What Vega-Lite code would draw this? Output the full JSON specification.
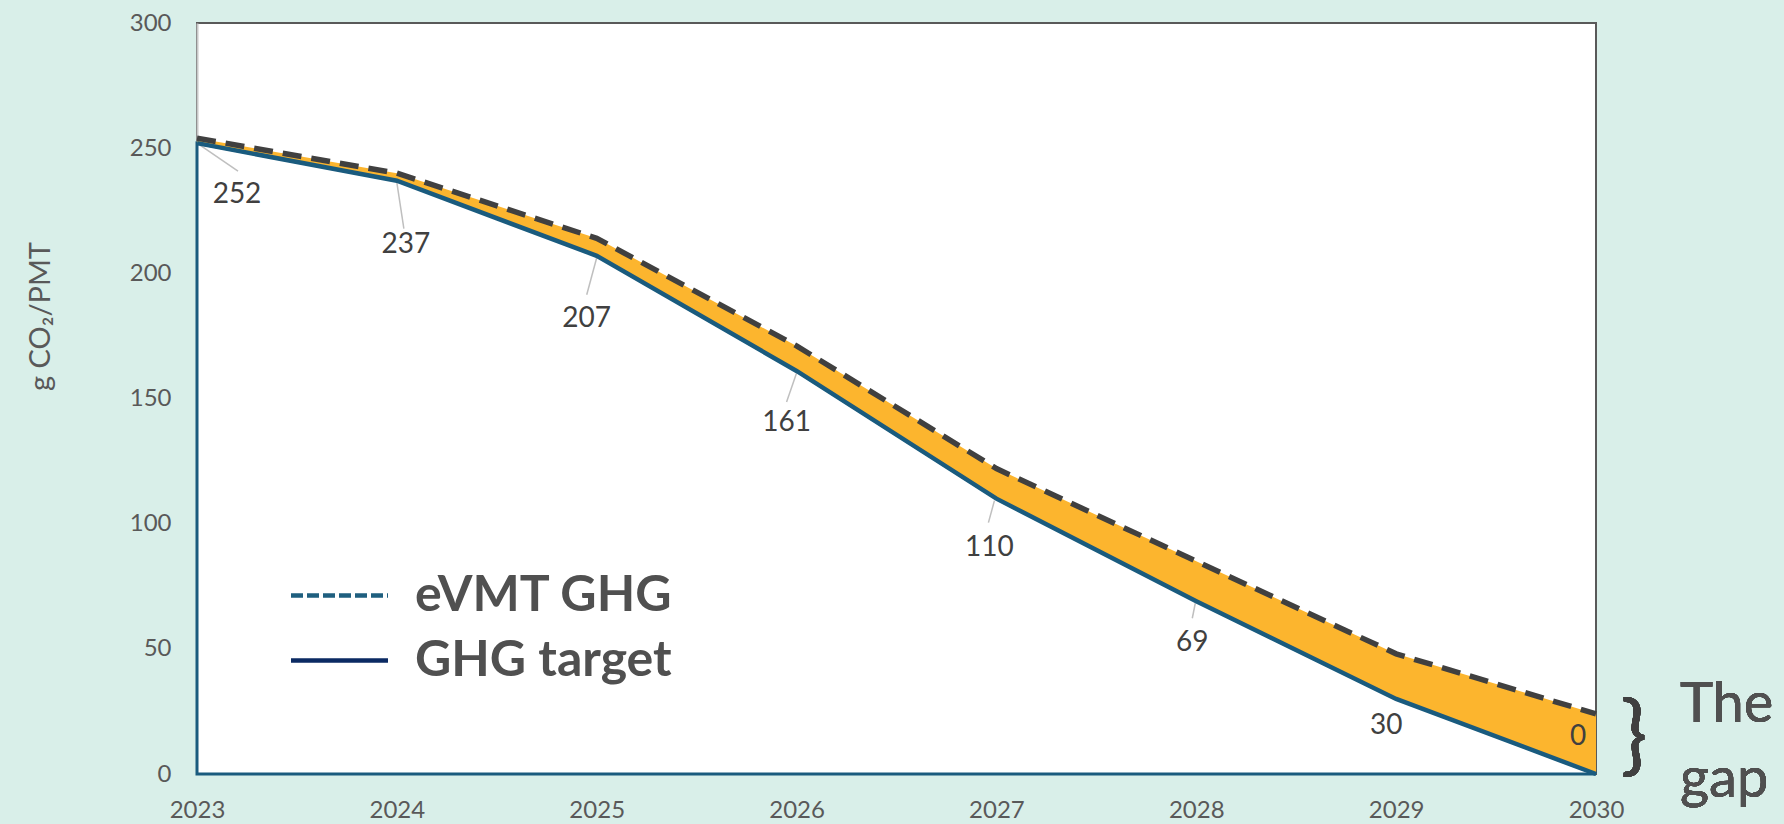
{
  "$schema": "https://vega.github.io/schema/vega-lite/v6.json",
  "width": 1399,
  "height": 751,
  "autosize": {"type": "none"},
  "padding": {"left": 197, "top": 23, "right": 188, "bottom": 50},
  "background": "#d9efe9",
  "data": {
    "values": [
      {"year": 2023, "target": 252, "evmt": 254},
      {"year": 2024, "target": 237, "evmt": 240},
      {"year": 2025, "target": 207, "evmt": 214},
      {"year": 2026, "target": 161, "evmt": 171},
      {"year": 2027, "target": 110, "evmt": 122},
      {"year": 2028, "target": 69, "evmt": 85},
      {"year": 2029, "target": 30, "evmt": 48},
      {"year": 2030, "target": 0, "evmt": 24}
    ]
  },
  "config": {
    "font": "Lato",
    "view": {"stroke": "#595959", "strokeWidth": 2, "fill": "white"},
    "axisX": {
      "labelFontSize": 24,
      "labelColor": "#595959",
      "labelPadding": 24,
      "labelFlush": false,
      "ticks": false,
      "domain": false,
      "grid": false
    },
    "axisY": {
      "labelFontSize": 24,
      "labelColor": "#595959",
      "labelPadding": 26,
      "ticks": false,
      "domain": true,
      "domainColor": "#c8c8c8",
      "domainWidth": 2,
      "grid": false,
      "titleFontSize": 29,
      "titleFontWeight": "normal",
      "titleColor": "#595959",
      "titleX": -157,
      "titleY": 293,
      "titleAngle": 270,
      "titleAlign": "center",
      "titleBaseline": "middle"
    },
    "legend": {
      "orient": "none",
      "legendX": 116,
      "legendY": 546,
      "padding": 0,
      "labelFontSize": 50,
      "labelFontWeight": "bold",
      "labelColor": "#505050",
      "labelLimit": 0,
      "symbolType": "M-2,0H2",
      "symbolSize": 2352,
      "symbolStrokeWidth": 4.5,
      "symbolOpacity": 1,
      "labelOffset": 49,
      "rowPadding": 13
    }
  },
  "layer": [
    {
      "mark": {"type": "area", "fill": "white", "stroke": "#1a5b7e", "strokeWidth": 3},
      "encoding": {
        "x": {"field": "year", "type": "quantitative", "scale": {"domain": [2023, 2030], "nice": false},
              "axis": {"values": [2023, 2024, 2025, 2026, 2027, 2028, 2029, 2030], "format": "d", "title": null}},
        "y": {"field": "target", "type": "quantitative", "scale": {"domain": [0, 300], "nice": false}, "title": "g CO₂/PMT",
              "axis": {"values": [0, 50, 100, 150, 200, 250, 300]}}
      }
    },
    {
      "mark": {"type": "area", "fill": "#fcb52e"},
      "encoding": {
        "x": {"field": "year", "type": "quantitative"},
        "y": {"field": "target", "type": "quantitative", "title": "g CO₂/PMT"},
        "y2": {"field": "evmt"}
      }
    },
    {
      "transform": [{"filter": "datum.year == 2023"}],
      "mark": {"type": "rule", "color": "#bfbfbf", "strokeWidth": 1.5, "xOffset": 3, "yOffset": 2, "x2Offset": 41, "y2Offset": 28},
      "encoding": {"x": {"field": "year", "type": "quantitative"}, "x2": {"field": "year"}, "y": {"field": "target", "type": "quantitative", "title": "g CO₂/PMT"}, "y2": {"field": "target"}}
    },
    {
      "transform": [{"filter": "datum.year == 2024"}],
      "mark": {"type": "rule", "color": "#bfbfbf", "strokeWidth": 1.5, "xOffset": 0, "yOffset": 2, "x2Offset": 7, "y2Offset": 48},
      "encoding": {"x": {"field": "year", "type": "quantitative"}, "x2": {"field": "year"}, "y": {"field": "target", "type": "quantitative", "title": "g CO₂/PMT"}, "y2": {"field": "target"}}
    },
    {
      "transform": [{"filter": "datum.year == 2025"}],
      "mark": {"type": "rule", "color": "#bfbfbf", "strokeWidth": 1.5, "xOffset": 0, "yOffset": 2, "x2Offset": -10, "y2Offset": 39},
      "encoding": {"x": {"field": "year", "type": "quantitative"}, "x2": {"field": "year"}, "y": {"field": "target", "type": "quantitative", "title": "g CO₂/PMT"}, "y2": {"field": "target"}}
    },
    {
      "transform": [{"filter": "datum.year == 2026"}],
      "mark": {"type": "rule", "color": "#bfbfbf", "strokeWidth": 1.5, "xOffset": 0, "yOffset": 2, "x2Offset": -10, "y2Offset": 31},
      "encoding": {"x": {"field": "year", "type": "quantitative"}, "x2": {"field": "year"}, "y": {"field": "target", "type": "quantitative", "title": "g CO₂/PMT"}, "y2": {"field": "target"}}
    },
    {
      "transform": [{"filter": "datum.year == 2027"}],
      "mark": {"type": "rule", "color": "#bfbfbf", "strokeWidth": 1.5, "xOffset": -2, "yOffset": 2, "x2Offset": -8, "y2Offset": 24},
      "encoding": {"x": {"field": "year", "type": "quantitative"}, "x2": {"field": "year"}, "y": {"field": "target", "type": "quantitative", "title": "g CO₂/PMT"}, "y2": {"field": "target"}}
    },
    {
      "transform": [{"filter": "datum.year == 2028"}],
      "mark": {"type": "rule", "color": "#bfbfbf", "strokeWidth": 1.5, "xOffset": -1, "yOffset": 2, "x2Offset": -4, "y2Offset": 17},
      "encoding": {"x": {"field": "year", "type": "quantitative"}, "x2": {"field": "year"}, "y": {"field": "target", "type": "quantitative", "title": "g CO₂/PMT"}, "y2": {"field": "target"}}
    },
    {
      "mark": {"type": "line", "color": "#404040", "strokeWidth": 5.5, "strokeDash": [19, 10]},
      "encoding": {
        "x": {"field": "year", "type": "quantitative"},
        "y": {"field": "evmt", "type": "quantitative", "title": "g CO₂/PMT"}
      }
    },
    {
      "mark": {"type": "line", "color": "#1a5b7e", "strokeWidth": 4.5},
      "encoding": {
        "x": {"field": "year", "type": "quantitative"},
        "y": {"field": "target", "type": "quantitative", "title": "g CO₂/PMT"}
      }
    },
    {"transform": [{"filter": "datum.year == 2023"}], "mark": {"type": "text", "fontSize": 28, "color": "#404040", "align": "center", "baseline": "middle", "dx": 40, "dy": 52}, "encoding": {"x": {"field": "year", "type": "quantitative"}, "y": {"field": "target", "type": "quantitative", "title": "g CO₂/PMT"}, "text": {"field": "target"}}},
    {"transform": [{"filter": "datum.year == 2024"}], "mark": {"type": "text", "fontSize": 28, "color": "#404040", "align": "center", "baseline": "middle", "dx": 9, "dy": 64}, "encoding": {"x": {"field": "year", "type": "quantitative"}, "y": {"field": "target", "type": "quantitative", "title": "g CO₂/PMT"}, "text": {"field": "target"}}},
    {"transform": [{"filter": "datum.year == 2025"}], "mark": {"type": "text", "fontSize": 28, "color": "#404040", "align": "center", "baseline": "middle", "dx": -10, "dy": 63}, "encoding": {"x": {"field": "year", "type": "quantitative"}, "y": {"field": "target", "type": "quantitative", "title": "g CO₂/PMT"}, "text": {"field": "target"}}},
    {"transform": [{"filter": "datum.year == 2026"}], "mark": {"type": "text", "fontSize": 28, "color": "#404040", "align": "center", "baseline": "middle", "dx": -10, "dy": 52}, "encoding": {"x": {"field": "year", "type": "quantitative"}, "y": {"field": "target", "type": "quantitative", "title": "g CO₂/PMT"}, "text": {"field": "target"}}},
    {"transform": [{"filter": "datum.year == 2027"}], "mark": {"type": "text", "fontSize": 28, "color": "#404040", "align": "center", "baseline": "middle", "dx": -7, "dy": 49}, "encoding": {"x": {"field": "year", "type": "quantitative"}, "y": {"field": "target", "type": "quantitative", "title": "g CO₂/PMT"}, "text": {"field": "target"}}},
    {"transform": [{"filter": "datum.year == 2028"}], "mark": {"type": "text", "fontSize": 28, "color": "#404040", "align": "center", "baseline": "middle", "dx": -4, "dy": 42}, "encoding": {"x": {"field": "year", "type": "quantitative"}, "y": {"field": "target", "type": "quantitative", "title": "g CO₂/PMT"}, "text": {"field": "target"}}},
    {"transform": [{"filter": "datum.year == 2029"}], "mark": {"type": "text", "fontSize": 28, "color": "#404040", "align": "center", "baseline": "middle", "dx": -10, "dy": 27}, "encoding": {"x": {"field": "year", "type": "quantitative"}, "y": {"field": "target", "type": "quantitative", "title": "g CO₂/PMT"}, "text": {"field": "target"}}},
    {"transform": [{"filter": "datum.year == 2030"}], "mark": {"type": "text", "fontSize": 28, "color": "#404040", "align": "center", "baseline": "middle", "dx": -18, "dy": -37}, "encoding": {"x": {"field": "year", "type": "quantitative"}, "y": {"field": "target", "type": "quantitative", "title": "g CO₂/PMT"}, "text": {"field": "target"}}},
    {
      "transform": [
        {"fold": ["evmt", "target"], "as": ["series", "value"]},
        {"filter": "false"}
      ],
      "mark": {"type": "line"},
      "encoding": {
        "x": {"field": "year", "type": "quantitative"},
        "y": {"field": "value", "type": "quantitative", "title": "g CO₂/PMT"},
        "color": {
          "field": "series",
          "type": "nominal",
          "scale": {"domain": ["evmt", "target"], "range": ["#1f5f7f", "#0b2a63"]},
          "legend": {"title": null, "labelExpr": "datum.label == 'evmt' ? 'eVMT GHG' : 'GHG target'"}
        },
        "strokeDash": {
          "field": "series",
          "type": "nominal",
          "scale": {"domain": ["evmt", "target"], "range": [[12, 4], [1, 0]]},
          "legend": {"title": null, "labelExpr": "datum.label == 'evmt' ? 'eVMT GHG' : 'GHG target'"}
        }
      }
    },
    {
      "mark": {"type": "text", "text": ["The", "gap"], "fontSize": 56, "color": "#505050", "align": "left", "baseline": "alphabetic", "lineHeight": 75, "dx": 84, "dy": -52},
      "encoding": {"x": {"datum": 2030}, "y": {"datum": 0}}
    },
    {
      "mark": {"type": "text", "text": "}", "fontSize": 88, "color": "#404040", "align": "center", "baseline": "middle", "dx": 38, "dy": -36},
      "encoding": {"x": {"datum": 2030}, "y": {"datum": 0}}
    }
  ]
}
